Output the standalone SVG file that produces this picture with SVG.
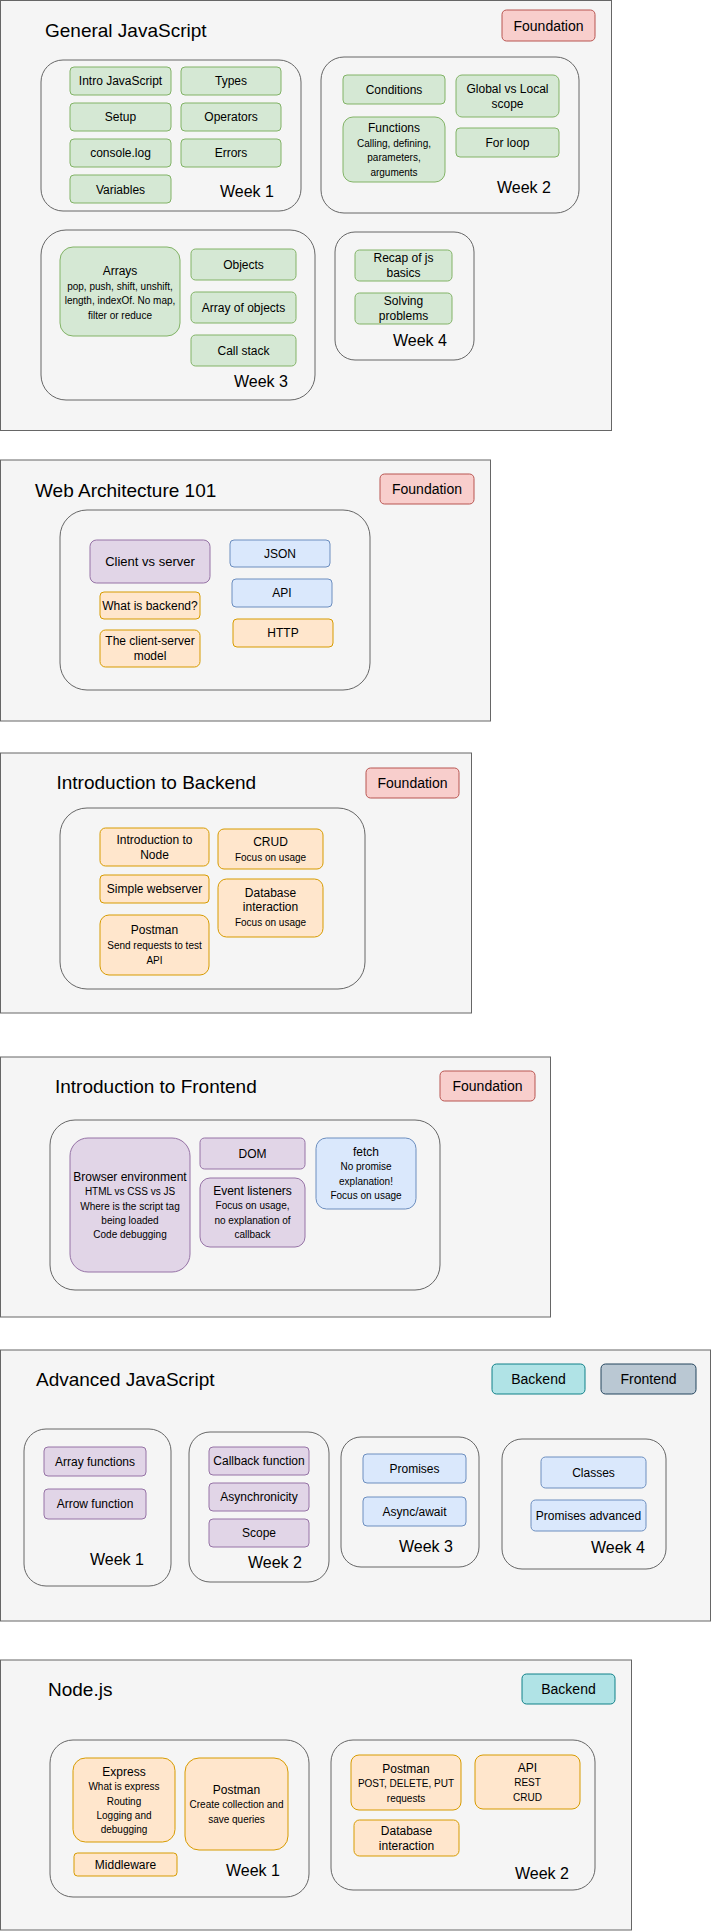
<svg xmlns="http://www.w3.org/2000/svg" width="711" height="1931" viewBox="0 0 711 1931">
<style>
text{font-family:"Liberation Sans",Arial,Helvetica,sans-serif;fill:#000}
.sec{fill:#f5f5f5;stroke:#666666;stroke-width:1}
.wk{fill:none;stroke:#666666;stroke-width:1}
.g{fill:#d5e8d4;stroke:#82b366}
.p{fill:#e1d5e7;stroke:#9673a6}
.o{fill:#ffe6cc;stroke:#d79b00}
.b{fill:#dae8fc;stroke:#6c8ebf}
.f{fill:#f8cecc;stroke:#b85450}
.be{fill:#b0e3e6;stroke:#0e8088}
.fe{fill:#bac8d3;stroke:#23445d}
.t{font-size:19px}
.w{font-size:16px}
.m{font-size:12px;text-anchor:middle}
.s{font-size:10px;text-anchor:middle}
.tag{font-size:14px;text-anchor:middle}
</style>

<g id="general-javascript">
<rect class="sec" x="0.5" y="0.5" width="611" height="430"/>
<text class="t" x="45" y="36.5">General JavaScript</text>
<rect class="f" x="502" y="10" width="93" height="31" rx="4.5"/>
<text class="tag" x="548.5" y="30.5">Foundation</text>
<g id="gjs-week1">
<rect class="wk" x="41" y="60" width="260" height="151" rx="22"/>
<rect class="g" x="70" y="67" width="101" height="28" rx="4"/><text class="m" x="120.5" y="85">Intro JavaScript</text>
<rect class="g" x="181" y="67" width="100" height="28" rx="4"/><text class="m" x="231" y="85">Types</text>
<rect class="g" x="70" y="103" width="101" height="28" rx="4"/><text class="m" x="120.5" y="121">Setup</text>
<rect class="g" x="181" y="103" width="100" height="28" rx="4"/><text class="m" x="231" y="121">Operators</text>
<rect class="g" x="70" y="139" width="101" height="28" rx="4"/><text class="m" x="120.5" y="157">console.log</text>
<rect class="g" x="181" y="139" width="100" height="28" rx="4"/><text class="m" x="231" y="157">Errors</text>
<rect class="g" x="70" y="175" width="101" height="28" rx="4"/><text class="m" x="120.5" y="193.5">Variables</text>
<text class="w" x="220" y="197">Week 1</text>
</g>
<g id="gjs-week2">
<rect class="wk" x="321" y="57" width="258" height="156" rx="23"/>
<rect class="g" x="343" y="75" width="102" height="29" rx="4"/><text class="m" x="394" y="94">Conditions</text>
<rect class="g" x="456" y="75" width="103" height="42" rx="6"/><text class="m" x="507.5" y="92.5">Global vs Local</text><text class="m" x="507.5" y="107.5">scope</text>
<rect class="g" x="343" y="117" width="102" height="65" rx="10"/><text class="m" x="394" y="132">Functions</text><text class="s" x="394" y="146.5">Calling, defining,</text><text class="s" x="394" y="161">parameters,</text><text class="s" x="394" y="175.5">arguments</text>
<rect class="g" x="456" y="128" width="103" height="29" rx="4"/><text class="m" x="507.5" y="147">For loop</text>
<text class="w" x="497" y="193">Week 2</text>
</g>
<g id="gjs-week3">
<rect class="wk" x="41" y="230" width="274" height="170" rx="25"/>
<rect class="g" x="60" y="247" width="120" height="89" rx="13"/><text class="m" x="120" y="275">Arrays</text><text class="s" x="120" y="289.5">pop, push, shift, unshift,</text><text class="s" x="120" y="304">length, indexOf. No map,</text><text class="s" x="120" y="318.5">filter or reduce</text>
<rect class="g" x="191" y="249" width="105" height="31" rx="4.5"/><text class="m" x="243.5" y="269">Objects</text>
<rect class="g" x="191" y="292" width="105" height="31" rx="4.5"/><text class="m" x="243.5" y="312">Array of objects</text>
<rect class="g" x="191" y="335" width="105" height="31" rx="4.5"/><text class="m" x="243.5" y="355">Call stack</text>
<text class="w" x="234" y="387">Week 3</text>
</g>
<g id="gjs-week4">
<rect class="wk" x="335" y="232" width="139" height="128" rx="20"/>
<rect class="g" x="355" y="250" width="97" height="31" rx="4.5"/><text class="m" x="403.5" y="262">Recap of js</text><text class="m" x="403.5" y="277">basics</text>
<rect class="g" x="355" y="293" width="97" height="31" rx="4.5"/><text class="m" x="403.5" y="305">Solving</text><text class="m" x="403.5" y="320">problems</text>
<text class="w" x="393" y="346">Week 4</text>
</g>
</g>

<g id="web-architecture">
<rect class="sec" x="0.5" y="460" width="490" height="261"/>
<text class="t" x="35" y="497">Web Architecture 101</text>
<rect class="f" x="380" y="474" width="94" height="30" rx="4.5"/>
<text class="tag" x="427" y="494">Foundation</text>
<rect class="wk" x="60" y="510" width="310" height="180" rx="27"/>
<rect class="p" x="90" y="540" width="120" height="43" rx="6.5"/><text class="m" x="150" y="566" style="font-size:13px">Client vs server</text>
<rect class="o" x="100" y="592" width="100" height="27" rx="4"/><text class="m" x="150" y="610">What is backend?</text>
<rect class="o" x="100" y="630" width="100" height="37" rx="5.5"/><text class="m" x="150" y="645">The client-server</text><text class="m" x="150" y="660">model</text>
<rect class="b" x="230" y="540" width="100" height="27" rx="4"/><text class="m" x="280" y="558">JSON</text>
<rect class="b" x="232" y="579" width="100" height="28" rx="4"/><text class="m" x="282" y="597">API</text>
<rect class="o" x="233" y="619" width="100" height="28" rx="4"/><text class="m" x="283" y="637">HTTP</text>
</g>

<g id="intro-backend">
<rect class="sec" x="0.5" y="753" width="471" height="260"/>
<text class="t" x="56.5" y="789">Introduction to Backend</text>
<rect class="f" x="366" y="768" width="93" height="30" rx="4.5"/>
<text class="tag" x="412.5" y="788">Foundation</text>
<rect class="wk" x="60" y="808" width="305" height="181" rx="27"/>
<rect class="o" x="100" y="828" width="109" height="38" rx="5.5"/><text class="m" x="154.5" y="844">Introduction to</text><text class="m" x="154.5" y="859">Node</text>
<rect class="o" x="100" y="875" width="109" height="28" rx="4"/><text class="m" x="154.5" y="893">Simple webserver</text>
<rect class="o" x="100" y="915" width="109" height="60" rx="9"/><text class="m" x="154.5" y="934">Postman</text><text class="s" x="154.5" y="948.5">Send requests to test</text><text class="s" x="154.5" y="963.5">API</text>
<rect class="o" x="218" y="829" width="105" height="40" rx="6"/><text class="m" x="270.5" y="846">CRUD</text><text class="s" x="270.5" y="860.5">Focus on usage</text>
<rect class="o" x="218" y="879" width="105" height="58" rx="8.5"/><text class="m" x="270.5" y="897">Database</text><text class="m" x="270.5" y="911">interaction</text><text class="s" x="270.5" y="925.5">Focus on usage</text>
</g>

<g id="intro-frontend">
<rect class="sec" x="0.5" y="1057" width="550" height="260"/>
<text class="t" x="55" y="1093">Introduction to Frontend</text>
<rect class="f" x="440" y="1071" width="95" height="30" rx="4.5"/>
<text class="tag" x="487.5" y="1091">Foundation</text>
<rect class="wk" x="50" y="1120" width="390" height="170" rx="25"/>
<rect class="p" x="70" y="1138" width="120" height="134" rx="18"/><text class="m" x="130" y="1181">Browser environment</text><text class="s" x="130" y="1194.5">HTML vs CSS vs JS</text><text class="s" x="130" y="1209.5">Where is the script tag</text><text class="s" x="130" y="1223.5">being loaded</text><text class="s" x="130" y="1237.5">Code debugging</text>
<rect class="p" x="200" y="1138" width="105" height="31" rx="4.5"/><text class="m" x="252.5" y="1158">DOM</text>
<rect class="p" x="200" y="1178" width="105" height="69" rx="10"/><text class="m" x="252.5" y="1195">Event listeners</text><text class="s" x="252.5" y="1208.5">Focus on usage,</text><text class="s" x="252.5" y="1223.5">no explanation of</text><text class="s" x="252.5" y="1237.5">callback</text>
<rect class="b" x="316" y="1138" width="100" height="71" rx="10.5"/><text class="m" x="366" y="1156">fetch</text><text class="s" x="366" y="1169.5">No promise</text><text class="s" x="366" y="1184.5">explanation!</text><text class="s" x="366" y="1198.5">Focus on usage</text>
</g>

<g id="advanced-javascript">
<rect class="sec" x="0.5" y="1350" width="710" height="271"/>
<text class="t" x="36" y="1386">Advanced JavaScript</text>
<rect class="be" x="492" y="1364" width="93" height="30" rx="4.5"/><text class="tag" x="538.5" y="1384">Backend</text>
<rect class="fe" x="601" y="1364" width="95" height="30" rx="4.5"/><text class="tag" x="648.5" y="1384">Frontend</text>
<g id="ajs-week1">
<rect class="wk" x="24" y="1429" width="147" height="157" rx="22"/>
<rect class="p" x="44" y="1447" width="102" height="29" rx="4"/><text class="m" x="95" y="1466">Array functions</text>
<rect class="p" x="44" y="1489" width="102" height="30" rx="4"/><text class="m" x="95" y="1508">Arrow function</text>
<text class="w" x="90" y="1565">Week 1</text>
</g>
<g id="ajs-week2">
<rect class="wk" x="189" y="1432" width="140" height="150" rx="21"/>
<rect class="p" x="209" y="1447" width="100" height="28" rx="4"/><text class="m" x="259" y="1465">Callback function</text>
<rect class="p" x="209" y="1483" width="100" height="28" rx="4"/><text class="m" x="259" y="1501">Asynchronicity</text>
<rect class="p" x="209" y="1519" width="100" height="28" rx="4"/><text class="m" x="259" y="1537">Scope</text>
<text class="w" x="248" y="1568">Week 2</text>
</g>
<g id="ajs-week3">
<rect class="wk" x="341" y="1437" width="138" height="130" rx="20"/>
<rect class="b" x="363" y="1454" width="103" height="29" rx="4"/><text class="m" x="414.5" y="1473">Promises</text>
<rect class="b" x="363" y="1497" width="103" height="29" rx="4"/><text class="m" x="414.5" y="1516">Async/await</text>
<text class="w" x="399" y="1552">Week 3</text>
</g>
<g id="ajs-week4">
<rect class="wk" x="502" y="1439" width="164" height="130" rx="20"/>
<rect class="b" x="541" y="1457" width="105" height="31" rx="4.5"/><text class="m" x="593.5" y="1477">Classes</text>
<rect class="b" x="531" y="1500" width="115" height="31" rx="4.5"/><text class="m" x="588.5" y="1520">Promises advanced</text>
<text class="w" x="591" y="1553">Week 4</text>
</g>
</g>

<g id="nodejs">
<rect class="sec" x="0.5" y="1660" width="631" height="270"/>
<text class="t" x="48" y="1696">Node.js</text>
<rect class="be" x="522" y="1674" width="93" height="30" rx="4.5"/><text class="tag" x="568.5" y="1694">Backend</text>
<g id="node-week1">
<rect class="wk" x="50" y="1740" width="259" height="157" rx="23"/>
<rect class="o" x="73" y="1758" width="102" height="84" rx="12.5"/><text class="m" x="124" y="1776">Express</text><text class="s" x="124" y="1789.5">What is express</text><text class="s" x="124" y="1804.5">Routing</text><text class="s" x="124" y="1818.5">Logging and</text><text class="s" x="124" y="1832.5">debugging</text>
<rect class="o" x="185" y="1758" width="103" height="92" rx="14"/><text class="m" x="236.5" y="1794">Postman</text><text class="s" x="236.5" y="1807.5">Create collection and</text><text class="s" x="236.5" y="1822.5">save queries</text>
<rect class="o" x="74" y="1853" width="103" height="23" rx="3.5"/><text class="m" x="125.5" y="1869">Middleware</text>
<text class="w" x="226" y="1876">Week 1</text>
</g>
<g id="node-week2">
<rect class="wk" x="331" y="1740" width="264" height="150" rx="22"/>
<rect class="o" x="351" y="1755" width="110" height="55" rx="8"/><text class="m" x="406" y="1773">Postman</text><text class="s" x="406" y="1786.5">POST, DELETE, PUT</text><text class="s" x="406" y="1801.5">requests</text>
<rect class="o" x="475" y="1755" width="105" height="54" rx="8"/><text class="m" x="527.5" y="1772">API</text><text class="s" x="527.5" y="1785.5">REST</text><text class="s" x="527.5" y="1800.5">CRUD</text>
<rect class="o" x="354" y="1820" width="105" height="36" rx="5.5"/><text class="m" x="406.5" y="1835">Database</text><text class="m" x="406.5" y="1850">interaction</text>
<text class="w" x="515" y="1879">Week 2</text>
</g>
</g>
</svg>
